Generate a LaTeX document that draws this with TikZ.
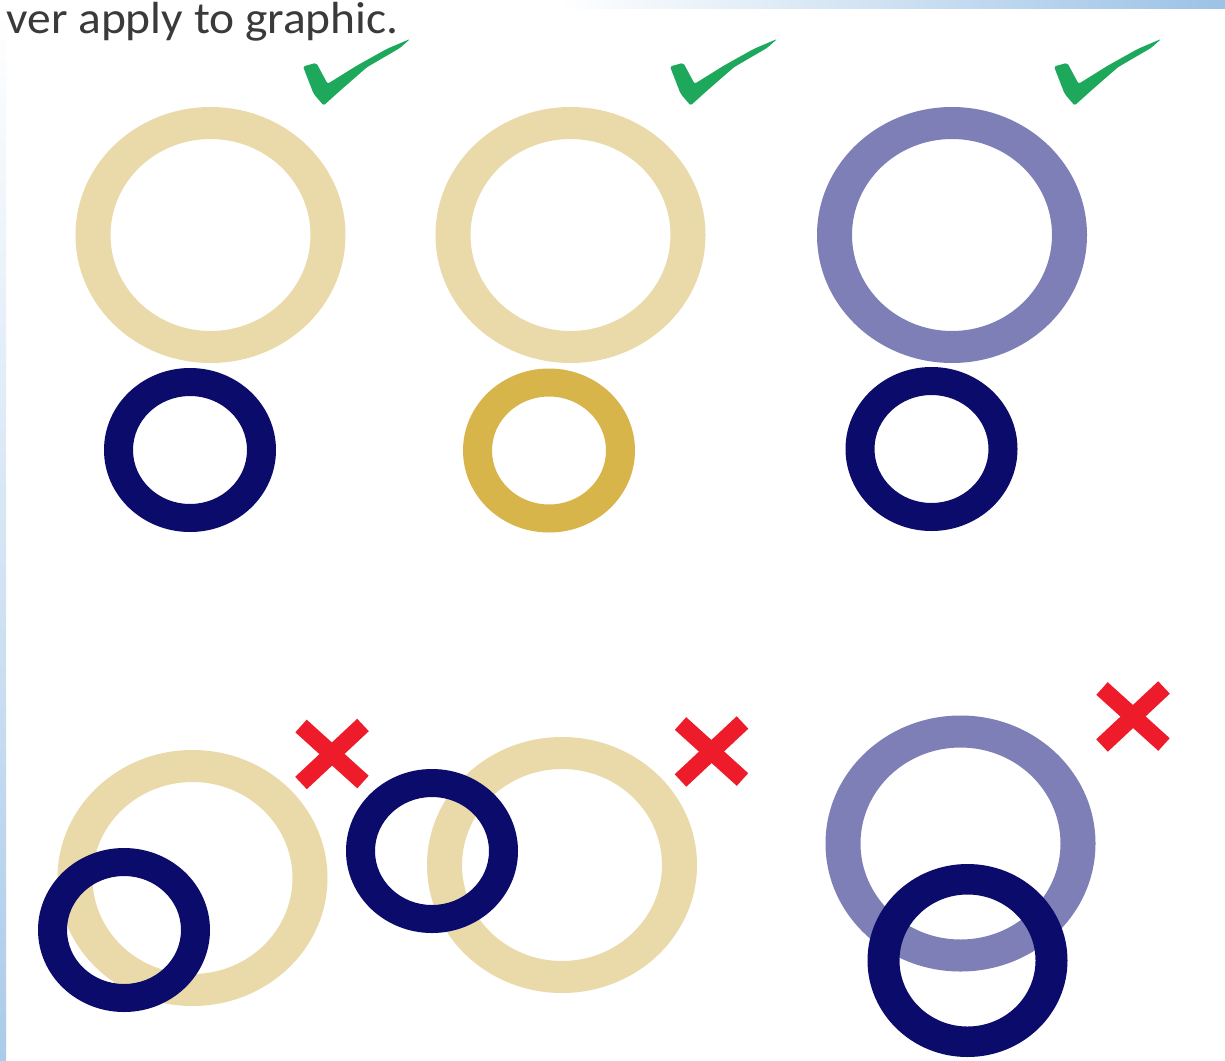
\documentclass[tikz,border=0pt]{standalone}
\usepackage{fontspec}
\setmainfont{Carlito}
\usepackage{xcolor}
\definecolor{sand}{HTML}{EAD9A9}
\definecolor{navy}{HTML}{0B0B6B}
\definecolor{lilac}{HTML}{7E7FB7}
\definecolor{ochre}{HTML}{D8B54B}
\definecolor{okgreen}{HTML}{1EA85C}
\definecolor{nored}{HTML}{EE1C2A}
\definecolor{skyband}{HTML}{9CC2E6}
\definecolor{inktext}{HTML}{3A3A3A}
\usetikzlibrary{arrows.meta}

% one ring = outer ellipse minus inner ellipse
\newcommand{\drawring}[6]{%
  \fill[#1,even odd rule] (#2) ellipse [x radius=#3,y radius=#4]
                          (#2) ellipse [x radius=#5,y radius=#6];}

\tikzset{
  okmark/.pic={\fill[okgreen,rounded corners=1pt]
    (0,0) -- (13.3,-3.7) -- (24.6,17.3) -- (54,-1) -- (84,-17.7) -- (107,-27.5)
    -- (97.3,-18.7) -- (64,0.7) -- (37.3,24) -- (20.6,39) -- (10.6,27.3) -- cycle;},
  nomark/.pic={\draw[nored,line width=8.5pt,line cap=butt]
    (-31,-28) -- (31,28) (31,-29) -- (-31,29);},
}

\begin{document}
\begin{tikzpicture}[x=0.5pt,y=-0.5pt]
  \useasboundingbox (0,0) rectangle (1225,1060);
  % slide background with the two light bands
  \fill[white] (0,0) rectangle (1225,1060);
  \shade[left color=white,right color=skyband] (560,0) rectangle (1225,8);
  \shade[top color=white,bottom color=skyband!85!white] (0,8) rectangle (6,1060);
  \node[font=\fontsize{22.5}{27}\selectfont,text=inktext,anchor=base west,inner sep=0]
    (title) at (6,33.5) {\scalebox{1.055}[1]{ver apply to graphic.}};

  % ring centres
  \coordinate (a1) at (210.5,235);  \coordinate (a2) at (190,450);
  \coordinate (b1) at (570.5,235);  \coordinate (b2) at (549,450.5);
  \coordinate (c1) at (952,235);    \coordinate (c2) at (931.5,449);
  \coordinate (d1) at (192.5,878);  \coordinate (d2) at (124,930);
  \coordinate (e1) at (562,865);    \coordinate (e2) at (432,851);
  \coordinate (f1) at (960.5,843.5);\coordinate (f2) at (967.5,960.5);

  % large rings first, small ones on top
  \foreach \c/\col in {a1/sand, b1/sand, c1/lilac, d1/sand, e1/sand, f1/lilac}
    \drawring{\col}{\c}{135}{128}{100}{96};
  \foreach \c/\col in {a2/navy, b2/ochre, c2/navy, d2/navy, e2/navy}
    \drawring{\col}{\c}{86}{82}{57}{54};
  \drawring{navy}{f2}{100}{96.5}{68}{66};

  % marks
  \foreach \x in {303,670,1054}
    \pic at (\x,66.5) {okmark};
  \foreach \x/\y in {332/754, 711.5/751.5, 1133/716.5}
    \pic at (\x,\y) {nomark};
\end{tikzpicture}
\end{document}
